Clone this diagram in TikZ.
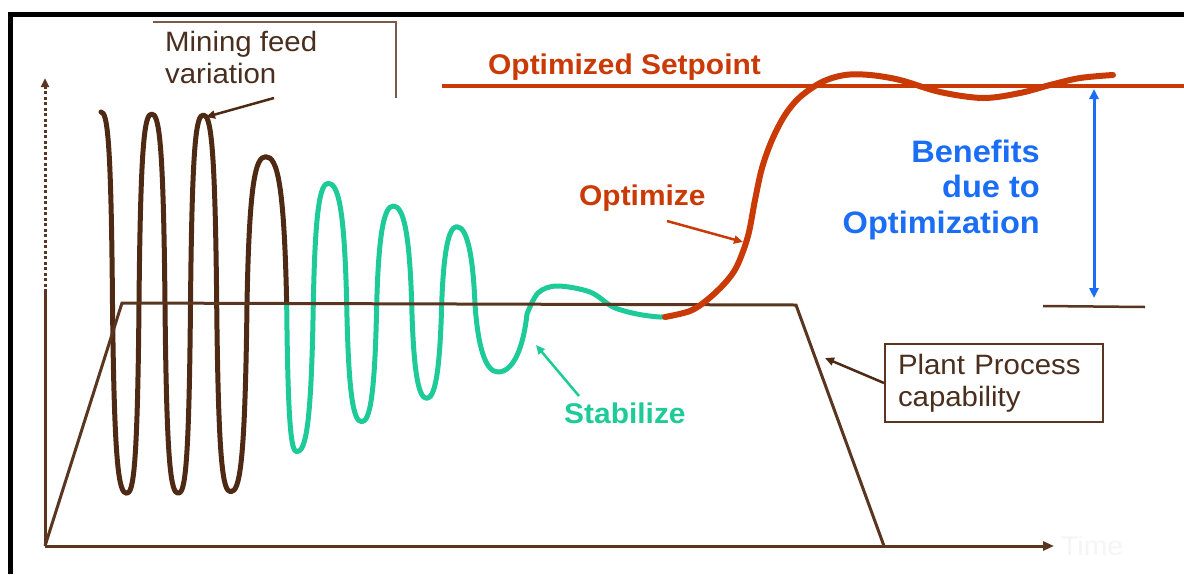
\documentclass[tikz,border=0pt]{standalone}
\usepackage{fontspec}
\setmainfont{Liberation Sans}[FakeStretch=1.05]
\usetikzlibrary{arrows.meta}
\definecolor{brn}{HTML}{4E2A14}
\definecolor{brnline}{HTML}{5A3621}
\definecolor{boxbrn}{HTML}{7A5A48}
\definecolor{txtbrn}{HTML}{4A2E1E}
\definecolor{grn}{HTML}{1ECB98}
\definecolor{optred}{HTML}{C93A06}
\definecolor{bluec}{HTML}{1A6DF5}
\tikzset{
  lbl/.style={inner sep=0pt, font=\fontsize{28}{32}\selectfont, text=txtbrn, align=left},
  boldlbl/.style={inner sep=0pt, font=\fontsize{28.5}{32}\selectfont\bfseries},
  curve/.style={line width=5pt, line cap=round, line join=round},
  thinline/.style={line width=3pt, draw=brnline},
  pointer/.style={line width=2.5pt, -{Triangle[length=9pt,width=8pt]}},
}
% quarter waves: extremum -> crossing, crossing -> extremum
\newcommand\qa[4]{.. controls ({#1+0.55*(#3-(#1))},#2) and ({#3-0.12*(#3-(#1))},{#2+26*sign(#4-(#2))}) .. (#3,#4)}
\newcommand\qb[4]{.. controls ({#1+0.12*(#3-(#1))},{#4+26*sign(#2-(#4))}) and ({#3-0.55*(#3-(#1))},#4) .. (#3,#4)}
\begin{document}
\begin{tikzpicture}[x=1pt,y=-1pt]
\useasboundingbox (0,0) rectangle (1184,574);
\fill[white] (0,0) rectangle (1184,574);
% frame
\coordinate (FR) at (1184,14.3);
\coordinate (FC) at (10.8,14.3);
\coordinate (FB) at (10.8,574);
\draw[line width=5pt, black] (FR) -- (FC) -- (FB);

% oscillations
\draw[curve, brn] (101,112)
 \qa{101}{112}{112.5}{304} \qb{112.5}{304}{126.7}{493.3}
 \qa{126.7}{493.3}{139}{304} \qb{139}{304}{151.7}{114}
 \qa{151.7}{114}{165}{304} \qb{165}{304}{178.3}{493.3}
 \qa{178.3}{493.3}{190.5}{304} \qb{190.5}{304}{203.3}{115}
 \qa{203.3}{115}{216.7}{304} \qb{216.7}{304}{230.7}{491.7}
 \qa{230.7}{491.7}{247}{304} \qb{247}{304}{265.7}{156.7}
 \qa{265.7}{156.7}{286.7}{305};
\draw[curve, grn] (286.7,305)
 \qb{286.7}{305}{296.7}{451.7}
 \qa{296.7}{451.7}{313.3}{304} \qb{313.3}{304}{328.3}{183.3}
 \qa{328.3}{183.3}{346.7}{304} \qb{346.7}{304}{361.7}{421.7}
 \qa{361.7}{421.7}{376.7}{304} \qb{376.7}{304}{393.3}{206}
 \qa{393.3}{206}{411.7}{304} \qb{411.7}{304}{426.7}{398.3}
 \qa{426.7}{398.3}{441.7}{304} \qb{441.7}{304}{456.7}{226.7}
 \qa{456.7}{226.7}{475}{304} \qb{475}{304}{498}{372}
 \qa{498}{372}{527}{314}
 -- plot[smooth, tension=0.55] coordinates {(527,314) (538,293) (557,286) (590,292)
 (613,307) (637,314) (660,317) (672,316)};

% axes
\coordinate (O) at (45,546);
\coordinate (Xend) at (1054,546);
\coordinate (Ymid) at (45,292);
\coordinate (Yend) at (45,78);
\draw[line width=3pt, brnline, -{Triangle[length=11pt,width=9pt]}] (O) -- (Xend);
\draw[line width=3pt, brnline] (O) -- (Ymid);
\draw[line width=3pt, brnline, dash pattern=on 3pt off 2.5pt, -{Triangle[length=9pt,width=8pt]}] (Ymid) -- (Yend);

% plant capability trapezoid
\coordinate (T1) at (45,546);
\coordinate (T2) at (122,303);
\coordinate (T3) at (796,305);
\coordinate (T4) at (884,546);
\draw[thinline, line join=miter] (T1) -- (T2) -- (T3) -- (T4);

% optimize curve
\draw[line width=6pt, optred, line cap=round, line join=round] plot[smooth, tension=0.55] coordinates {
 (665,317) (690,311) (707,300) (725,283) (737,266) (748,236) (755,200)
 (762,168) (772,140) (785,115) (800,97) (822,82) (845,75) (870,75) (900,80)
 (940,92) (983,98) (1020,93) (1050,85) (1080,78) (1113,75)};

% setpoint line
\coordinate (SP1) at (442,86);
\coordinate (SP2) at (1184,86);
\draw[line width=3.5pt, optred] (SP1) -- (SP2);

% benefit marker
\coordinate (BL1) at (1043,306);
\coordinate (BL2) at (1145,307);
\draw[line width=2.5pt, brnline] (BL1) -- (BL2);
\coordinate (BA1) at (1094,89);
\coordinate (BA2) at (1094,298);
\draw[line width=3pt, bluec, {Triangle[length=10pt,width=9pt]}-{Triangle[length=10pt,width=9pt]}] (BA1) -- (BA2);

% labels
\node[boldlbl, text=optred, anchor=base west] (osp) at (488,74) {Optimized Setpoint};
\node[boldlbl, text=optred, anchor=base west] (opt) at (579,205) {Optimize};
\node[boldlbl, text=grn, anchor=base west] (stab) at (564,423) {Stabilize};
\node[inner sep=0pt, font=\fontsize{31}{35.5}\selectfont\bfseries, text=bluec, align=right, anchor=north east] (ben) at (1040,139.5) {Benefits\\due to\\Optimization};

% mining feed label
\node[lbl, anchor=north west] (mfv) at (165,31.5) {Mining feed\\variation};
\coordinate (MB1) at (153,21.7);
\coordinate (MB2) at (396,21.7);
\coordinate (MB3) at (396,98);
\draw[line width=2pt, boxbrn] (MB1) -- (MB2) -- (MB3);
\coordinate (mfvtail) at (274,98);
\coordinate (mfvtip) at (206,117);
\draw[pointer, brn] (mfvtail) -- (mfvtip);

% plant process label
\node[lbl, draw=brnline, line width=2pt, minimum width=218pt, minimum height=78pt, text width=192pt, inner xsep=13pt] (ppc) at (994,383) {Plant Process\\capability};
\coordinate (ppctip) at (825,358);
\draw[pointer, brn] (ppc.west) -- (ppctip);

% optimize and stabilize pointers
\coordinate (opttail) at (667,221);
\coordinate (opttip) at (743,242);
\draw[pointer, optred] (opttail) -- (opttip);
\coordinate (stabtail) at (579,396);
\coordinate (stabtip) at (536,345);
\draw[pointer, grn] (stabtail) -- (stabtip);

% faint time label
\node[inner sep=0pt, font=\fontsize{27}{30}\selectfont, text=black!4, anchor=base west] (time) at (1061,555) {Time};
\end{tikzpicture}
\end{document}
